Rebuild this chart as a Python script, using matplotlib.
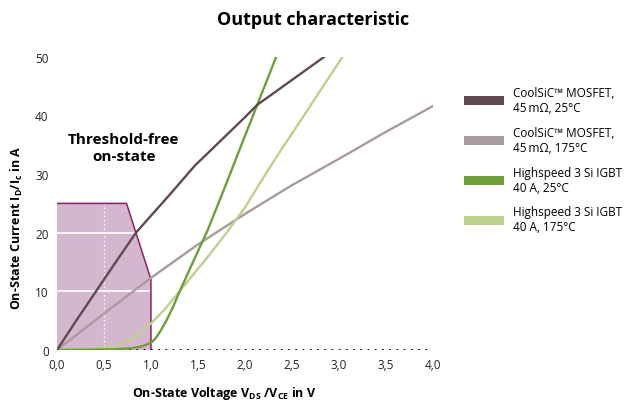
import matplotlib.pyplot as plt
from matplotlib.patches import Patch, Polygon

plt.rcParams['font.family'] = ['Open Sans', 'DejaVu Sans']
plt.rcParams['mathtext.fontset'] = 'custom'
plt.rcParams['mathtext.rm'] = 'Open Sans'
plt.rcParams['mathtext.bf'] = 'Open Sans:bold'

# curves (voltage in V, current in A)
sic25_v = [0, 0.2, 0.415, 0.6, 0.84, 1.0, 1.2, 1.47, 1.6, 1.8, 2.0, 2.13, 2.4, 2.6, 2.87]
sic25_i = [0, 4.9, 10, 14.4, 20, 22.9, 26.5, 31.5, 33.5, 36.6, 39.7, 41.8, 44.9, 47.2, 50.3]
sic175_v = [0, 0.5, 1.0, 1.5, 2.0, 2.5, 3.0, 3.5, 4.0]
sic175_i = [0, 6.2, 12.3, 18, 23.2, 28.1, 32.6, 37.2, 41.6]
igbt25_v = [0, 0.3, 0.6, 0.8, 0.9, 1.0, 1.05, 1.1, 1.17, 1.24, 1.3, 1.45, 1.6, 1.8, 2.0, 2.2, 2.34]
igbt25_i = [0, 0.05, 0.1, 0.3, 0.6, 1.2, 2.0, 3.2, 5.2, 7.5, 9.8, 15.1, 20.3, 28.3, 36.5, 44.6, 50.3]
igbt175_v = [0, 0.4, 0.6, 0.8, 1.0, 1.15, 1.33, 1.6, 1.8, 2.0, 2.2, 2.4, 2.6, 2.8, 3.05]
igbt175_i = [0, 0.2, 0.7, 1.9, 4.5, 7.0, 10.5, 15.8, 19.9, 24.3, 29.5, 34.5, 39.3, 44.2, 50.3]

# threshold-free region outline
region_v = [0, 0, 0.74, 1.0, 1.0]
region_i = [0, 25, 25, 12, 0]

labels = ['CoolSiC™ MOSFET,\n45\u2009mΩ, 25°C', 'CoolSiC™ MOSFET,\n45\u2009mΩ, 175°C',
          'Highspeed 3 Si IGBT\n40 A, 25°C', 'Highspeed 3 Si IGBT\n40 A, 175°C']
colors = ['#5e4a50', '#a99a9d', '#6e9e3a', '#bed08e']

xticks = [0, 0.5, 1.0, 1.5, 2.0, 2.5, 3.0, 3.5, 4.0]
yticks = [0, 10, 20, 30, 40, 50]

fig = plt.figure(figsize=(6.3, 4.02), dpi=100)
ax = fig.add_axes([0.0905, 0.127, 0.5965, 0.729])

poly = Polygon(list(zip(region_v, region_i)), closed=True, facecolor='#d4b7cf',
               edgecolor='none', zorder=1)
ax.add_patch(poly)
ax.plot(region_v[1:], region_i[1:], color='#8e1f63', lw=1.1, zorder=2)
# white grid inside region
for g in [10, 20]:
    ax.plot([0, 1.0], [g, g], color='white', lw=1.2, zorder=1.5)
ax.plot([0.5, 0.5], [0, 25], color='white', lw=1.0, ls=(0, (1, 2)), zorder=1.5)

ax.plot([0, 3.97], [0, 0], color='black', lw=1.3, ls=(0, (1, 3)), zorder=3)

ax.plot(sic175_v, sic175_i, color=colors[1], lw=1.7, zorder=4)
ax.plot(igbt175_v, igbt175_i, color=colors[3], lw=1.7, zorder=4)
ax.plot(igbt25_v, igbt25_i, color=colors[2], lw=1.7, zorder=5)
ax.plot(sic25_v, sic25_i, color=colors[0], lw=1.7, zorder=5)

ax.set_xlim(0, 4.0)
ax.set_ylim(0, 50)
ax.set_xticks(xticks)
ax.set_xticklabels([f'{t:.1f}'.replace('.', ',') for t in xticks])
ax.set_yticks(yticks)
for s in ax.spines.values():
    s.set_visible(False)
ax.tick_params(length=0, labelsize=8.5, colors='#222222', pad=6)

ax.text(0.71, 34.5, 'Threshold-free\non-state', ha='center', va='center',
        fontsize=11, fontweight='bold', linespacing=1.3)

ax.set_xlabel(r'On-State Voltage V$_\mathbf{DS}$ /V$_\mathbf{CE}$ in V',
              fontsize=9, fontweight='bold')
ax.xaxis.set_label_coords(0.445, -0.115)
ax.set_ylabel(r'On-State Current I$_\mathbf{D}$/I$_\mathbf{c}$ in A',
              fontsize=9, fontweight='bold')
ax.yaxis.set_label_coords(-0.085, 0.42)

fig.text(0.497, 0.95, 'Output characteristic', ha='center', va='center',
         fontsize=13, fontweight='bold')

handles = [Patch(facecolor=c, edgecolor='none') for c in colors]
fig.legend(handles, labels, loc='upper left', bbox_to_anchor=(0.72, 0.81),
           frameon=False, fontsize=8.5, handlelength=3.4, handleheight=0.8,
           labelspacing=1.0, handletextpad=0.7)

fig.savefig('out.png', dpi=100)
